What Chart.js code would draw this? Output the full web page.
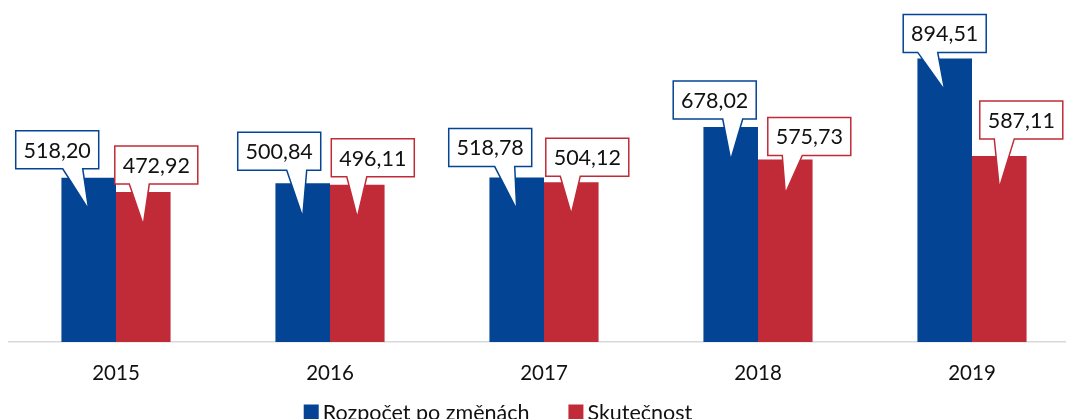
<!DOCTYPE html>
<html>
<head>
<meta charset="utf-8">
<script src="https://cdn.jsdelivr.net/npm/chart.js@4/dist/chart.umd.min.js"></script>
<style>
html,body{margin:0;padding:0;background:#fff;overflow:hidden;width:1066px;height:419px;}
#wrap{position:absolute;left:0;top:0;width:1090px;height:430px;}
</style>
</head>
<body>
<div id="wrap"><canvas id="c" width="1090" height="430"></canvas></div>
<script>
const categories = ['2015', '2016', '2017', '2018', '2019'];
const budgetValues = [518.20, 500.84, 518.78, 678.02, 894.51];
const actualValues = [472.92, 496.11, 504.12, 575.73, 587.11];
const seriesNames = ['Rozpočet po změnách', 'Skutečnost'];

const BLUE = '#034494';
const RED = '#c12b37';
const FONT = 'Lato, "Open Sans", sans-serif';

// callout placement (relative to each bar): box centre dx, box bottom dy, pointer base dx, tip dy
const calloutStyle = [
  { dx: [-31.5, -23.5, -26.5, -16, 0], dy: [-9, -13, -11, -8, -6], base: [15.5, 17.5, 14.5, 18, -17], tip: [32, 34, 32, 33, 32] },
  { dx: [13, 15.5, 16, 24, 22], dy: [-8, -8, -6, -4, -17], base: [-17, -16, -17, -17, -17], tip: [33, 33, 32, 34, 32] }
];

const fmt = v => v.toFixed(2).replace('.', ',');

const calloutPlugin = {
  id: 'callouts',
  afterDatasetsDraw(chart) {
    const ctx = chart.ctx;
    const W = 83, H = 38, BW = 20;
    chart.data.datasets.forEach((ds, di) => {
      const meta = chart.getDatasetMeta(di);
      const st = calloutStyle[di];
      meta.data.forEach((bar, i) => {
        const cx = bar.x + st.dx[i];
        const bottom = bar.y + st.dy[i];
        const top = bottom - H;
        const left = cx - W / 2, right = cx + W / 2;
        const bc = cx + st.base[i];
        const tipX = bar.x, tipY = bar.y + st.tip[i];
        ctx.save();
        ctx.beginPath();
        ctx.moveTo(left, top);
        ctx.lineTo(right, top);
        ctx.lineTo(right, bottom);
        ctx.lineTo(bc + BW / 2, bottom);
        ctx.lineTo(tipX, tipY);
        ctx.lineTo(bc - BW / 2, bottom);
        ctx.lineTo(left, bottom);
        ctx.closePath();
        ctx.fillStyle = '#ffffff';
        ctx.fill();
        ctx.lineWidth = 1.5;
        ctx.strokeStyle = ds.backgroundColor;
        ctx.stroke();
        ctx.fillStyle = '#111111';
        ctx.font = '21.5px ' + FONT;
        ctx.textAlign = 'center';
        ctx.textBaseline = 'middle';
        ctx.fillText(fmt(ds.data[i]), cx, (top + bottom) / 2 + 1);
        ctx.restore();
      });
    });
  }
};

const legendPlugin = {
  id: 'customLegend',
  afterDraw(chart) {
    const ctx = chart.ctx;
    ctx.save();
    ctx.font = '21.5px ' + FONT;
    const box = 15, gapText = 4, gapItem = 39;
    const items = chart.data.datasets.map(d => ({ label: d.label, color: d.backgroundColor, w: ctx.measureText(d.label).width }));
    let total = 0;
    items.forEach((it, k) => { total += box + gapText + it.w + (k ? gapItem : 0); });
    let x = 498 - total / 2;
    const cy = 412;
    ctx.textBaseline = 'middle';
    ctx.textAlign = 'left';
    items.forEach(it => {
      ctx.fillStyle = it.color;
      ctx.fillRect(x, cy - box / 2, box, box);
      ctx.fillStyle = '#111111';
      ctx.fillText(it.label, x + box + gapText, cy + 1);
      x += box + gapText + it.w + gapItem;
    });
    ctx.restore();
  }
};

new Chart(document.getElementById('c'), {
  type: 'bar',
  data: {
    labels: categories,
    datasets: [
      { label: seriesNames[0], data: budgetValues, backgroundColor: BLUE, borderWidth: 0 },
      { label: seriesNames[1], data: actualValues, backgroundColor: RED, borderWidth: 0 }
    ]
  },
  options: {
    responsive: false,
    animation: false,
    devicePixelRatio: 1,
    layout: { padding: { left: 9, right: 11, top: 25, bottom: 0 } },
    datasets: { bar: { categoryPercentage: 0.51, barPercentage: 1.0 } },
    plugins: { legend: { display: false }, tooltip: { enabled: false } },
    scales: {
      x: {
        grid: { display: false },
        border: { display: true, color: '#d9d9d9', width: 1.5 },
        ticks: { color: '#111111', font: { family: FONT, size: 20.5 }, padding: 11 },
        afterFit(scale) { scale.height = 88; }
      },
      y: { display: false, min: 0, max: 1000 }
    }
  },
  plugins: [calloutPlugin, legendPlugin]
});
</script>
</body>
</html>
